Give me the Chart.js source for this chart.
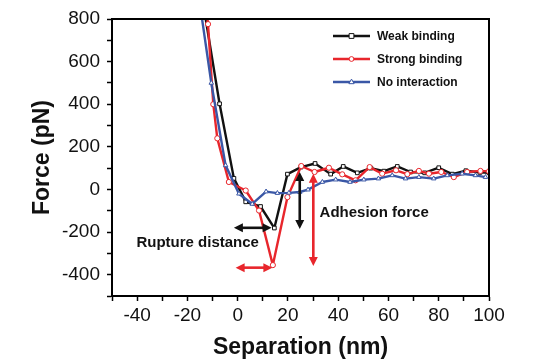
<!DOCTYPE html>
<html>
<head>
<meta charset="utf-8">
<script src="https://cdn.jsdelivr.net/npm/chart.js@4.4.1/dist/chart.umd.min.js"></script>
<style>
  html, body { margin: 0; padding: 0; background: #fff; }
  #wrap { width: 545px; height: 361px; }
</style>
</head>
<body>
<div id="wrap"><canvas id="c" width="545" height="361"></canvas></div>
<script>
// ---- Data ----
const seriesLabels = ["Weak binding", "Strong binding", "No interaction"];

const weakX = [-15.5, -7.2, -1.5, 3.2, 9.1, 14.6, 19.8, 25.2, 30.8, 37.0, 42.0, 47.6, 53.0, 58.2, 63.5, 68.8, 74.4, 80.0, 85.4, 90.8, 96.4, 100];
const weakY = [1000, 402, 52, -58, -80, -181, 72, 105, 122, 72, 108, 78, 100, 86, 108, 82, 78, 102, 72, 88, 80, 78];

const strongX = [-13.5, -11.8, -9.7, -8.1, -3.5, 3.2, 8.5, 14.0, 19.8, 25.3, 30.6, 36.3, 41.6, 46.9, 52.5, 57.5, 63.0, 67.5, 72.1, 76.1, 81.0, 86.0, 91.3, 96.6, 100];
const strongY = [1000, 776, 400, 240, 35, -5, -99, -355, -36, 110, 82, 102, 71, 43, 105, 74, 90, 72, 87, 74, 82, 58, 82, 87, 85];

const noneX = [-16.0, -10.5, -4.8, 0.5, 5.8, 11.3, 15.8, 20.4, 24.7, 28.0, 33.7, 39.0, 44.7, 50.2, 56.0, 61.5, 66.8, 72.1, 78.0, 83.4, 89.3, 94.6, 98.6];
const noneY = [950, 500, 113, -20, -68, -10, -17, -16, -12, -1, 35, 46, 35, 46, 51, 66, 51, 58, 51, 66, 74, 66, 58];

const xTickLabels = [-40, -20, 0, 20, 40, 60, 80, 100];
const yTickLabels = [-400, -200, 0, 200, 400, 600, 800];

// annotation arrows (data units): [x1, y1, x2, y2]
const ruptureWeak = [-1.5, -180, 13.5, -180];
const ruptureStrong = [-0.8, -367, 13.8, -367];
const adhesionWeak = [24.7, 82, 24.7, -186];
const adhesionStrong = [30.1, 74, 30.1, -359];
const ruptureText = { x: -15.9, y: -251, text: "Rupture distance" };
const adhesionText = { x: 32.6, y: -109, text: "Adhesion force" };

// ---- Styles ----
const BLACK = '#111111', RED = '#e8262c', BLUE = '#3a57a6';
const FONT = '"Liberation Sans", Arial, Helvetica, sans-serif';

function pts(xs, ys) { return xs.map((x, i) => ({ x: x, y: ys[i] })); }

const datasets = [
  { label: seriesLabels[0], data: pts(weakX, weakY), borderColor: BLACK, pointStyle: 'rect', order: 2 },
  { label: seriesLabels[1], data: pts(strongX, strongY), borderColor: RED, pointStyle: 'circle', order: 1 },
  { label: seriesLabels[2], data: pts(noneX, noneY), borderColor: BLUE, pointStyle: 'triangle', order: 0 }
].map(d => Object.assign(d, {
  borderWidth: 2.4,
  tension: 0,
  pointRadius: 2.6,
  pointBorderWidth: 1,
  pointBackgroundColor: '#ffffff',
  pointBorderColor: d.borderColor,
  fill: false
}));

function drawMarker(ctx, style, x, y, r, color) {
  ctx.save();
  ctx.fillStyle = '#fff';
  ctx.strokeStyle = color;
  ctx.lineWidth = 1;
  ctx.beginPath();
  if (style === 'rect') {
    ctx.rect(x - r, y - r, 2 * r, 2 * r);
  } else if (style === 'circle') {
    ctx.arc(x, y, r, 0, Math.PI * 2);
  } else {
    ctx.moveTo(x, y - r * 1.2);
    ctx.lineTo(x + r * 1.1, y + r * 0.7);
    ctx.lineTo(x - r * 1.1, y + r * 0.7);
    ctx.closePath();
  }
  ctx.fill();
  ctx.stroke();
  ctx.restore();
}

function arrowHead(ctx, x, y, ang, len, wid) {
  ctx.beginPath();
  ctx.moveTo(x, y);
  ctx.lineTo(x - len * Math.cos(ang) + wid * Math.sin(ang), y - len * Math.sin(ang) - wid * Math.cos(ang));
  ctx.lineTo(x - len * Math.cos(ang) - wid * Math.sin(ang), y - len * Math.sin(ang) + wid * Math.cos(ang));
  ctx.closePath();
  ctx.fill();
}

function doubleArrow(chart, a, color) {
  const ctx = chart.ctx, xs = chart.scales.x, ys = chart.scales.y;
  const x1 = xs.getPixelForValue(a[0]), y1 = ys.getPixelForValue(a[1]);
  const x2 = xs.getPixelForValue(a[2]), y2 = ys.getPixelForValue(a[3]);
  const ang = Math.atan2(y2 - y1, x2 - x1);
  const len = 9, wid = 4.5;
  ctx.save();
  ctx.strokeStyle = color; ctx.fillStyle = color; ctx.lineWidth = 2.6;
  ctx.beginPath();
  ctx.moveTo(x1 + (len - 1) * Math.cos(ang), y1 + (len - 1) * Math.sin(ang));
  ctx.lineTo(x2 - (len - 1) * Math.cos(ang), y2 - (len - 1) * Math.sin(ang));
  ctx.stroke();
  arrowHead(ctx, x2, y2, ang, len, wid);
  arrowHead(ctx, x1, y1, ang + Math.PI, len, wid);
  ctx.restore();
}

const annotatePlugin = {
  id: 'annotate',
  afterDatasetsDraw(chart) {
    const ctx = chart.ctx, xs = chart.scales.x, ys = chart.scales.y, ca = chart.chartArea;
    // frame
    ctx.save();
    ctx.strokeStyle = '#000'; ctx.lineWidth = 2;
    ctx.strokeRect(ca.left, ca.top, ca.right - ca.left, ca.bottom - ca.top);
    ctx.restore();
    // arrows
    doubleArrow(chart, ruptureWeak, BLACK);
    doubleArrow(chart, ruptureStrong, RED);
    doubleArrow(chart, adhesionWeak, BLACK);
    doubleArrow(chart, adhesionStrong, RED);
    // texts
    ctx.save();
    ctx.fillStyle = '#111';
    ctx.font = 'bold 15px ' + FONT;
    ctx.textBaseline = 'middle';
    ctx.textAlign = 'center';
    ctx.fillText(ruptureText.text, xs.getPixelForValue(ruptureText.x), ys.getPixelForValue(ruptureText.y));
    ctx.textAlign = 'left';
    ctx.fillText(adhesionText.text, xs.getPixelForValue(adhesionText.x), ys.getPixelForValue(adhesionText.y));
    ctx.restore();
    // legend
    const lx1 = 333, lx2 = 370, ly0 = 36, lgap = 23;
    chart.data.datasets.forEach((ds, i) => {
      const y = ly0 + i * lgap;
      ctx.save();
      ctx.strokeStyle = ds.borderColor; ctx.lineWidth = 2.4;
      ctx.beginPath(); ctx.moveTo(lx1, y); ctx.lineTo(lx2, y); ctx.stroke();
      ctx.restore();
      drawMarker(ctx, ds.pointStyle, (lx1 + lx2) / 2, y, 2.4, ds.borderColor);
      ctx.save();
      ctx.fillStyle = '#111';
      ctx.font = 'bold 12px ' + FONT;
      ctx.textBaseline = 'middle';
      ctx.textAlign = 'left';
      ctx.fillText(ds.label, 377, y + 0.5);
      ctx.restore();
    });
  }
};

new Chart(document.getElementById('c'), {
  type: 'line',
  data: { datasets: datasets },
  plugins: [annotatePlugin],
  options: {
    responsive: false,
    animation: false,
    devicePixelRatio: 1,
    layout: { padding: { left: 29, right: 56, top: 19, bottom: 0 } },
    plugins: { legend: { display: false }, tooltip: { enabled: false } },
    elements: { line: { borderJoinStyle: 'round' } },
    scales: {
      x: {
        type: 'linear',
        min: -50, max: 100,
        afterFit(s) { s.height = 65; },
        ticks: {
          stepSize: 10, autoSkip: false, maxRotation: 0, padding: 3,
          color: '#111', font: { family: FONT, size: 19 },
          callback: v => xTickLabels.includes(v) ? String(v) : ''
        },
        grid: { drawOnChartArea: false, drawTicks: true, tickLength: 5, tickColor: '#000', tickWidth: 1.5 },
        border: { display: true, color: '#000', width: 2 },
        title: { display: true, text: 'Separation (nm)', color: '#111', font: { family: FONT, size: 23, weight: 'bold' }, padding: { top: 0, bottom: 0 } }
      },
      y: {
        type: 'linear',
        min: -500, max: 800,
        afterFit(s) { s.width = 83; },
        ticks: {
          stepSize: 100, autoSkip: false, padding: 7,
          color: '#111', font: { family: FONT, size: 19 },
          callback: v => yTickLabels.includes(v) ? String(v) : ''
        },
        grid: { drawOnChartArea: false, drawTicks: true, tickLength: 5, tickColor: '#000', tickWidth: 1.5 },
        border: { display: true, color: '#000', width: 2 },
        title: { display: true, text: 'Force (pN)', color: '#111', font: { family: FONT, size: 23, weight: 'bold' }, padding: { top: 0, bottom: 0 } }
      }
    }
  }
});
</script>
</body>
</html>
